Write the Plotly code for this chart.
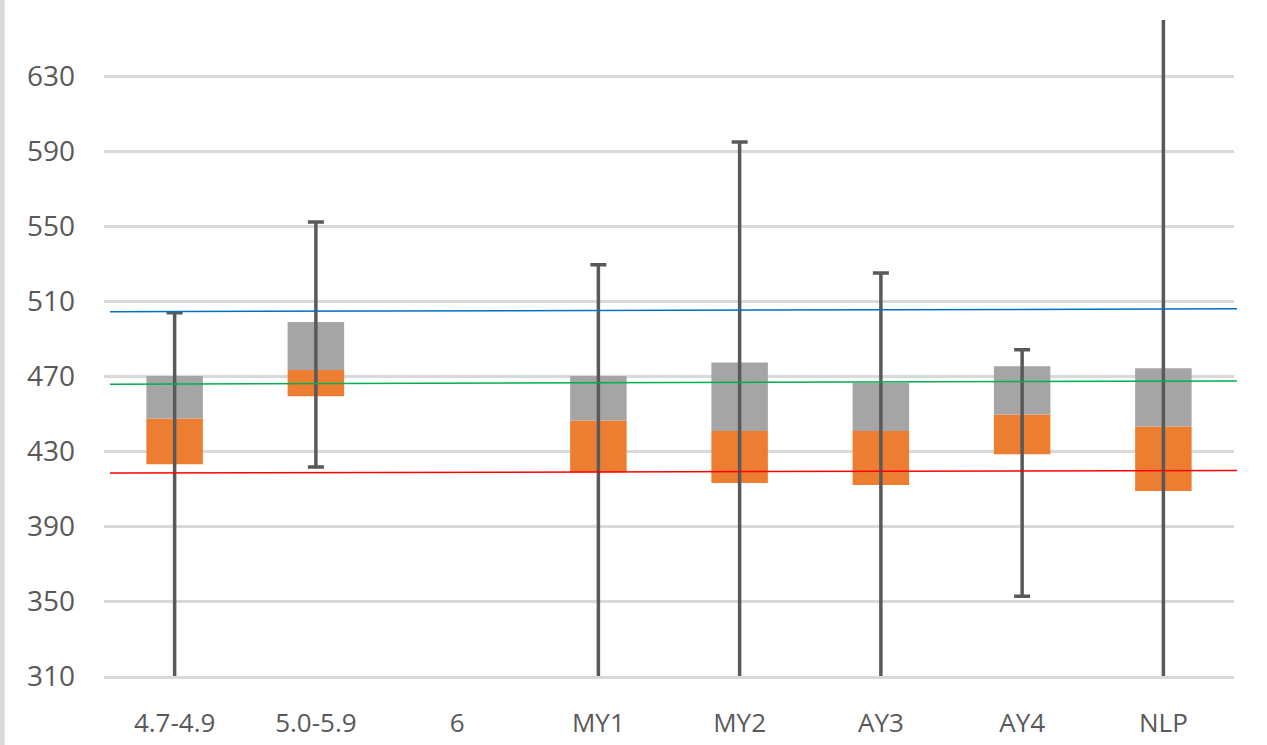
import plotly.graph_objects as go

categories = ["4.7-4.9", "5.0-5.9", "6", "MY1", "MY2", "AY3", "AY4", "NLP"]
q1 = [423.0, 459.3, None, 418.7, 413.0, 411.9, 428.3, 408.7]
median = [447.4, 473.2, None, 446.3, 440.7, 440.7, 449.5, 443.1]
q3 = [470.0, 498.9, None, 470.0, 477.3, 466.4, 475.3, 474.2]
max_vals = [503.8, 552.2, None, 529.4, 594.9, 525.0, 484.0, 680.0]
min_vals = [290.0, 421.5, None, 290.0, 290.0, 290.0, 352.5, 290.0]

ref_blue = [504.4, 505.9]
ref_green = [465.7, 467.4]
ref_red = [418.3, 419.6]

tick_vals = [310, 350, 390, 430, 470, 510, 550, 590, 630]


def diff(a, b):
    return [None if (x is None or y is None) else x - y for x, y in zip(a, b)]


fig = go.Figure()
fig.add_trace(go.Bar(x=categories, y=diff(median, q1), base=q1, width=0.4,
                     marker=dict(color="#ED7D31", line=dict(width=0)),
                     showlegend=False, hoverinfo="skip"))
fig.add_trace(go.Bar(x=categories, y=diff(q3, median), base=median, width=0.4,
                     marker=dict(color="#A5A5A5", line=dict(width=0)),
                     showlegend=False, hoverinfo="skip"))
fig.add_trace(go.Scatter(x=categories, y=median, mode="markers",
                         marker=dict(size=1, color="rgba(0,0,0,0)"),
                         error_y=dict(type="data", symmetric=False,
                                      array=diff(max_vals, median),
                                      arrayminus=diff(median, min_vals),
                                      color="#595959", thickness=3.5, width=8),
                         showlegend=False, hoverinfo="skip"))

for vals, col in [(ref_blue, "#0070C0"), (ref_green, "#00B050"), (ref_red, "#FF0000")]:
    fig.add_shape(type="line", xref="paper", yref="y", x0=0.0053, x1=1.0027,
                  y0=vals[0], y1=vals[1], line=dict(color=col, width=1.5))

# left gray border strip
fig.add_shape(type="rect", xref="paper", yref="paper", x0=-0.0925, x1=-0.0878,
              y0=-0.2, y1=1.1, fillcolor="#D9D9D9", line=dict(width=0), layer="below")

fig.update_layout(
    width=1267, height=745,
    margin=dict(l=104, r=33, t=20, b=69),
    paper_bgcolor="white", plot_bgcolor="white",
    barmode="overlay",
    font=dict(family="Open Sans", color="#595959"),
    xaxis=dict(type="category", range=[-0.5, 7.5], showgrid=False, automargin=False,
               showline=True, linecolor="#D9D9D9", linewidth=3,
               tickfont=dict(size=26, color="#595959"), ticks="",
               ticklabelstandoff=22),
    yaxis=dict(range=[310, 660], tickvals=tick_vals, showgrid=True, automargin=False,
               gridcolor="#D9D9D9", gridwidth=3, zeroline=False, showline=False,
               tickfont=dict(size=28, color="#595959"), ticks="",
               ticklabelstandoff=28),
)

fig.write_html("out.html", config={"displayModeBar": False},
               post_script="document.body.style.margin='0';")
